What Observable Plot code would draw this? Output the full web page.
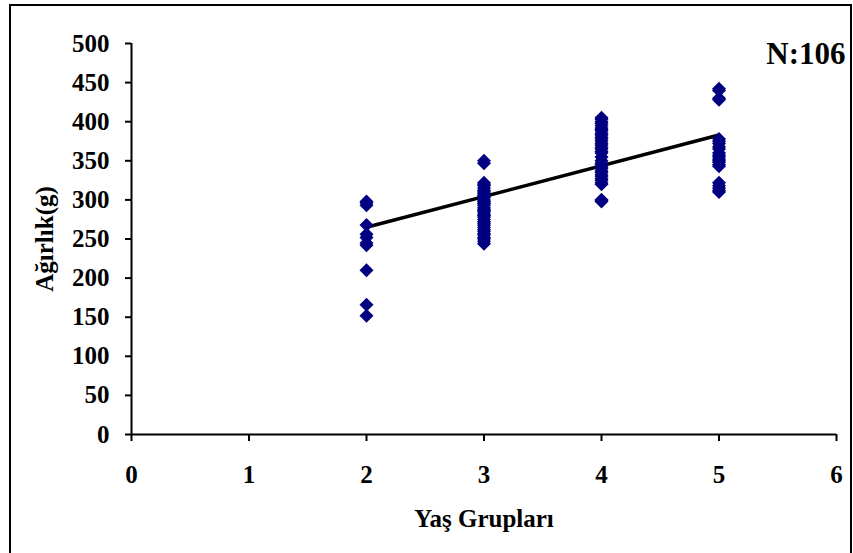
<!DOCTYPE html>
<html>
<head>
<meta charset="utf-8">
<script src="https://cdn.jsdelivr.net/npm/d3@7"></script>
<script src="https://cdn.jsdelivr.net/npm/@observablehq/plot@0.6"></script>
<style>
  html, body { margin: 0; padding: 0; background: #fff; }
  #chart { position: relative; width: 853px; height: 553px; overflow: hidden; }
  #chart svg { display: block; }
  #border {
    position: absolute; left: 9px; top: 4px; width: 839px; height: 600px;
    border: 2px solid #000; pointer-events: none;
  }
</style>
</head>
<body>
<div id="chart"><div id="border"></div></div>
<script>
// Age groups (x) and measured weights in grams for each group
const ageGroups = [2, 3, 4, 5];
const weightsAge2 = [298, 296, 293, 268, 256, 252, 245, 242, 210, 166, 152];
const weightsAge3 = [350, 347, 322, 320, 318, 315, 312, 310, 308, 306, 305, 303,
                     300, 298, 296, 295, 293, 290, 288, 286, 285, 282, 280, 278,
                     275, 272, 270, 268, 265, 262, 260, 257, 255, 252, 250, 247, 244];
const weightsAge4 = [405, 403, 400, 398, 395, 392, 390, 388, 385, 383, 380, 378,
                     375, 372, 370, 367, 365, 362, 360, 355, 350, 347, 345, 342,
                     340, 337, 335, 332, 330, 327, 325, 322, 320, 300, 300, 298];
const weightsAge5 = [442, 440, 430, 428, 378, 375, 372, 368, 365, 360, 357, 355,
                     352, 350, 348, 345, 343, 322, 318, 315, 312, 310];

// Linear trend line endpoints
const trendX = [2, 5];
const trendY = [265, 383];

// Axis ticks
const xTicks = [0, 1, 2, 3, 4, 5, 6];
const yTicks = [0, 50, 100, 150, 200, 250, 300, 350, 400, 450, 500];

const weightSets = [weightsAge2, weightsAge3, weightsAge4, weightsAge5];
const points = ageGroups.flatMap((g, i) => weightSets[i].map(w => ({yas: g, agirlik: w})));
const trend = trendX.map((x, i) => ({yas: x, agirlik: trendY[i]}));

const chart = Plot.plot({
  width: 853,
  height: 553,
  marginLeft: 131,
  marginRight: 17,
  marginTop: 43,
  marginBottom: 119,
  style: {
    fontFamily: "'Liberation Serif', 'Times New Roman', serif",
    fontWeight: "bold",
    fontSize: "25px",
    color: "#000",
    background: "transparent",
    overflow: "visible"
  },
  x: {domain: [0, 6]},
  y: {domain: [0, 500]},
  marks: [
    Plot.axisY({
      ticks: yTicks, tickFormat: "d", tickSize: 6, tickPadding: 16, strokeWidth: 2,
      label: "Ağırlık(g)", labelAnchor: "center", labelOffset: 96, labelArrow: "none"
    }),
    Plot.axisX({
      ticks: xTicks, tickFormat: "d", tickSize: 7, tickPadding: 24, strokeWidth: 2,
      label: "Yaş Grupları", labelAnchor: "center", labelOffset: 92, labelArrow: "none"
    }),
    Plot.ruleX([0], {stroke: "#000", strokeWidth: 2}),
    Plot.ruleY([0], {stroke: "#000", strokeWidth: 2}),
    Plot.line(trend, {x: "yas", y: "agirlik", stroke: "#000", strokeWidth: 3.5}),
    Plot.dot(points, {x: "yas", y: "agirlik", symbol: d3.symbolDiamond2, r: 6.3, fill: "#000080", stroke: "none"}),
    Plot.text([`N:${points.length}`], {
      frameAnchor: "top-right", dx: 9, dy: -2, fontSize: 31, fontWeight: "bold", fill: "#000"
    })
  ]
});

document.getElementById("chart").prepend(chart);
</script>
</body>
</html>
